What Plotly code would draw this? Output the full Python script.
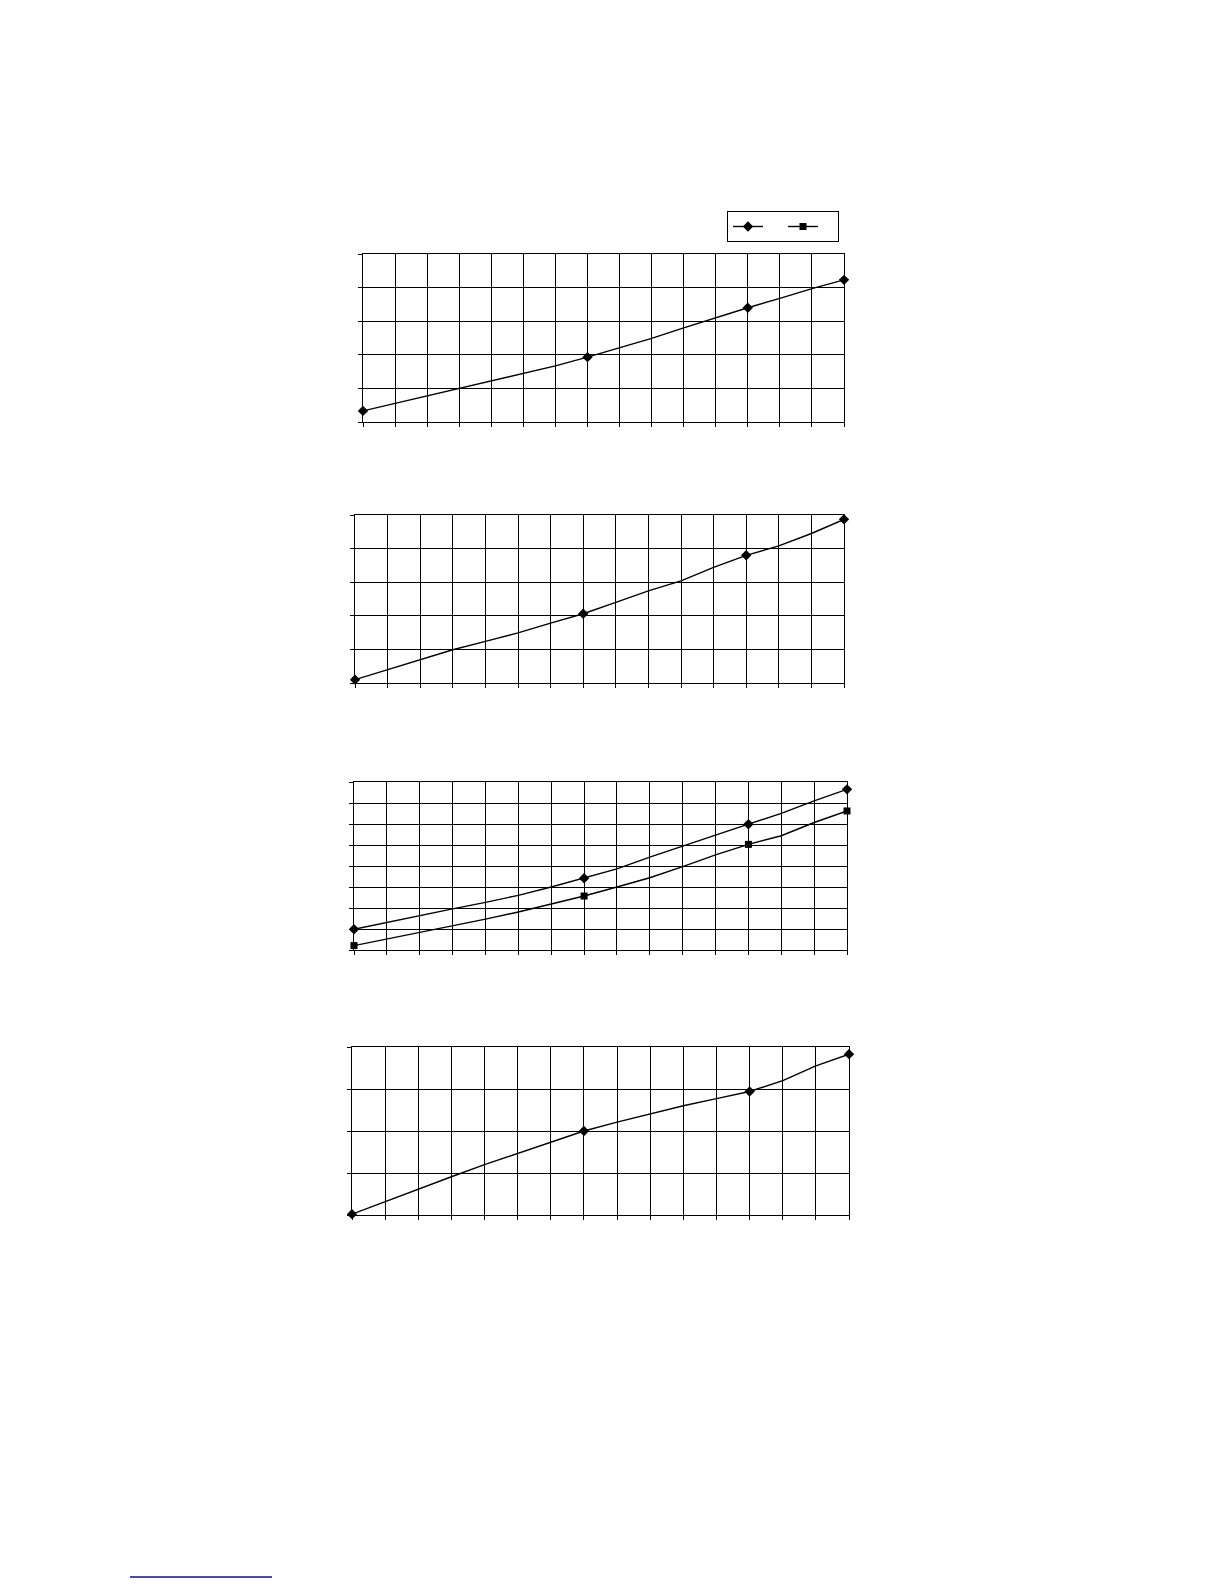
import plotly.graph_objects as go

# x positions shared by all four panels (one per grid column)
steps = list(range(16))
marked = [0, 7, 12, 15]  # points that carry a marker

panel1 = [0.33, 0.55, 0.78, 1.00, 1.22, 1.45, 1.67, 1.93, 2.21, 2.49, 2.80, 3.11, 3.40, 3.68, 3.97, 4.23]
panel2 = [0.10, 0.40, 0.70, 0.99, 1.24, 1.49, 1.78, 2.06, 2.40, 2.74, 3.04, 3.44, 3.80, 4.08, 4.45, 4.87]
panel3_a = [0.99, 1.32, 1.64, 1.96, 2.27, 2.60, 3.00, 3.42, 3.86, 4.42, 4.95, 5.49, 5.99, 6.51, 7.10, 7.65]
panel3_b = [0.21, 0.52, 0.83, 1.15, 1.47, 1.81, 2.18, 2.57, 3.00, 3.44, 3.97, 4.53, 5.03, 5.44, 6.07, 6.62]
panel4 = [0.02, 0.32, 0.62, 0.91, 1.20, 1.47, 1.73, 2.00, 2.21, 2.40, 2.60, 2.77, 2.94, 3.20, 3.55, 3.83]

y_rows = [5, 5, 8, 4]  # number of horizontal grid rows per panel

W, H = 1224, 1584
# plot areas in page pixels: left, right, top, bottom
boxes = [(355, 836, 246, 414), (347, 836, 507, 675), (346, 839, 774, 942), (344, 841, 1039, 1207)]

fig = go.Figure()


def add_series(values, n, symbol, size):
    xa = "x" if n == 1 else f"x{n}"
    ya = "y" if n == 1 else f"y{n}"
    fig.add_trace(go.Scatter(x=steps, y=values, mode="lines", xaxis=xa, yaxis=ya,
                             line=dict(color="black", width=1.4), showlegend=False,
                             hoverinfo="skip"))
    fig.add_trace(go.Scatter(x=[steps[i] for i in marked], y=[values[i] for i in marked],
                             mode="markers", xaxis=xa, yaxis=ya, cliponaxis=False,
                             marker=dict(symbol=symbol, size=size, color="black"),
                             showlegend=False))


add_series(panel1, 1, "diamond", 8)
add_series(panel2, 2, "diamond", 8)
add_series(panel3_a, 3, "diamond", 8)
add_series(panel3_b, 3, "square", 7)
add_series(panel4, 4, "diamond", 8)

# legend entries (no labels in the source)
for sym, sz in [("diamond", 8), ("square", 7)]:
    fig.add_trace(go.Scatter(x=[None], y=[None], mode="lines+markers", name=" ",
                             line=dict(color="black", width=1.4),
                             marker=dict(symbol=sym, size=sz, color="black")))

axis_style = dict(showgrid=True, gridcolor="black", gridwidth=1, showline=True,
                  linecolor="black", linewidth=1, mirror=True, ticks="outside",
                  ticklen=4, tickcolor="black", showticklabels=False, zeroline=False,
                  dtick=1, fixedrange=True)

layout = dict(width=W, height=H, margin=dict(l=0, r=0, t=0, b=0),
              paper_bgcolor="white", plot_bgcolor="white")
for k, (l, r, t, b) in enumerate(boxes, start=1):
    sx = "" if k == 1 else str(k)
    layout[f"xaxis{sx}"] = dict(axis_style, domain=[l / W, r / W], range=[0, 15],
                                anchor=f"y{sx}")
    layout[f"yaxis{sx}"] = dict(axis_style, domain=[1 - b / H, 1 - t / H],
                                range=[0, y_rows[k - 1]], anchor=f"x{sx}")

fig.update_layout(**layout)
fig.update_layout(
    showlegend=True,
    legend=dict(orientation="h", x=719 / W, y=1 - 203 / H, xanchor="left", yanchor="top",
                bordercolor="black", borderwidth=1, bgcolor="white",
                itemwidth=30, entrywidth=10, font=dict(size=6, family="Arial"),
                tracegroupgap=0),
)

# footnote rule at the bottom of the page
fig.add_shape(type="line", xref="paper", yref="paper", x0=122 / W, x1=264 / W,
              y0=1 - 1569 / H, y1=1 - 1569 / H, line=dict(color="#10108a", width=1.5))

fig.write_html("out.html")
